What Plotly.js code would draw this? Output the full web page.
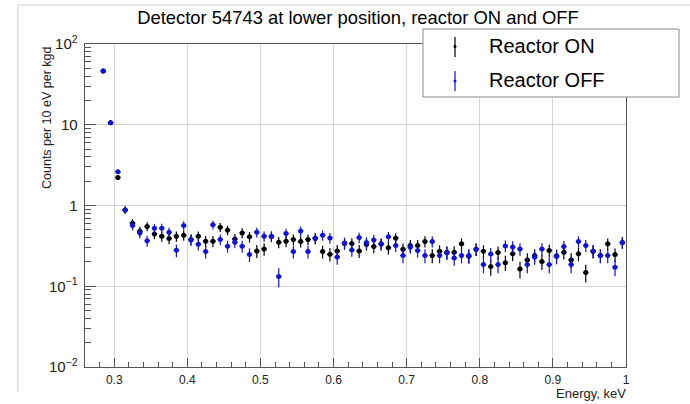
<!DOCTYPE html>
<html>
<head>
<meta charset="utf-8">
<script src="https://cdn.plot.ly/plotly-3.0.1.min.js"></script>
<style>html,body{margin:0;padding:0;background:#fff;}#chart{width:690px;height:404px;}</style>
</head>
<body>
<div id="chart"></div>
<script>
// Bin centres, keV
const energy = [0.285,0.295,0.305,0.315,0.325,0.335,0.345,0.355,0.365,0.375,0.385,0.395,0.405,0.415,0.425,0.435,0.445,0.455,0.465,0.475,0.485,0.495,0.505,0.515,0.525,0.535,0.545,0.555,0.565,0.575,0.585,0.595,0.605,0.615,0.625,0.635,0.645,0.655,0.665,0.675,0.685,0.695,0.705,0.715,0.725,0.735,0.745,0.755,0.765,0.775,0.785,0.795,0.805,0.815,0.825,0.835,0.845,0.855,0.865,0.875,0.885,0.895,0.905,0.915,0.925,0.935,0.945,0.955,0.965,0.975,0.985,0.995];

// Reactor ON (black)
const onVals = [46.3,10.6,2.22,0.88,0.604,0.48,0.549,0.445,0.417,0.390,0.417,0.429,0.38,0.417,0.361,0.361,0.539,0.495,0.386,0.458,0.409,0.274,0.290,0.413,0.351,0.361,0.379,0.358,0.379,0.39,0.269,0.249,0.274,0.338,0.338,0.274,0.329,0.310,0.335,0.299,0.394,0.288,0.319,0.319,0.358,0.240,0.272,0.264,0.264,0.335,0.236,0.288,0.272,0.175,0.262,0.196,0.252,0.163,0.212,0.240,0.202,0.277,0.238,0.264,0.212,0.252,0.148,0.27,0.24,0.335,0.247,0.348];
const onErr = [0.65,0.31,0.14,0.09,0.074,0.066,0.07,0.063,0.061,0.059,0.061,0.062,0.059,0.061,0.057,0.057,0.07,0.067,0.059,0.064,0.061,0.05,0.051,0.061,0.056,0.057,0.058,0.057,0.058,0.059,0.049,0.047,0.05,0.055,0.055,0.05,0.054,0.053,0.055,0.052,0.06,0.051,0.054,0.054,0.057,0.047,0.05,0.049,0.049,0.055,0.046,0.051,0.05,0.04,0.049,0.042,0.048,0.038,0.044,0.047,0.043,0.05,0.046,0.049,0.044,0.048,0.037,0.049,0.047,0.055,0.047,0.056];

// Reactor OFF (blue)
const offVals = [46.3,10.6,2.61,0.88,0.565,0.458,0.365,0.524,0.524,0.467,0.279,0.565,0.375,0.332,0.269,0.576,0.379,0.313,0.351,0.313,0.247,0.467,0.417,0.417,0.132,0.450,0.269,0.485,0.269,0.397,0.429,0.397,0.231,0.344,0.282,0.401,0.348,0.375,0.332,0.409,0.319,0.240,0.304,0.277,0.240,0.358,0.240,0.259,0.224,0.240,0.240,0.288,0.186,0.250,0.186,0.316,0.307,0.290,0.186,0.229,0.290,0.186,0.233,0.310,0.186,0.358,0.319,0.274,0.240,0.240,0.172,0.348];
const offErr = [0.65,0.31,0.15,0.09,0.071,0.064,0.057,0.069,0.069,0.065,0.05,0.071,0.058,0.055,0.049,0.072,0.058,0.053,0.056,0.053,0.047,0.065,0.061,0.061,0.035,0.064,0.049,0.066,0.049,0.06,0.062,0.06,0.046,0.056,0.05,0.06,0.056,0.058,0.055,0.061,0.054,0.047,0.052,0.05,0.047,0.057,0.047,0.048,0.045,0.047,0.047,0.051,0.041,0.048,0.041,0.053,0.053,0.051,0.041,0.045,0.051,0.041,0.046,0.053,0.041,0.057,0.054,0.05,0.047,0.047,0.039,0.056];

const seriesNames = ['Reactor ON', 'Reactor OFF'];
const xTickVals = [0.3,0.4,0.5,0.6,0.7,0.8,0.9,1.0];
const xTickText = ['0.3','0.4','0.5','0.6','0.7','0.8','0.9','1'];

const FONT = '"Liberation Sans", Arial, Helvetica, sans-serif';
const ON_COLOR = '#000000';
const OFF_COLOR = '#1414c8';

function trace(vals, errs, name, color) {
  return {
    type: 'scatter', mode: 'markers', name: name, x: energy, y: vals,
    marker: {symbol: 'circle', size: 5, color: color},
    error_y: {type: 'data', array: errs, visible: true, color: color, thickness: 1.2, width: 0},
    error_x: {type: 'constant', value: 0.0038, visible: true, color: color, thickness: 1.2, width: 0},
    showlegend: false, cliponaxis: true
  };
}

const data = [
  trace(onVals, onErr, seriesNames[0], ON_COLOR),
  trace(offVals, offErr, seriesNames[1], OFF_COLOR)
];

// pixel -> paper helpers for decoration (plot area 85..626 x 44..367)
const L = 85, R = 626, T = 44, B = 367;
const px = v => (v - L) / (R - L);
const py = v => (B - v) / (B - T);

const layout = {
  width: 690, height: 404,
  margin: {l: L, r: 690 - R, t: T, b: 404 - B, pad: 0},
  paper_bgcolor: '#ffffff', plot_bgcolor: '#ffffff',
  font: {family: FONT, color: '#000', size: 12},
  showlegend: false,
  title: {
    text: 'Detector 54743 at lower position, reactor ON and OFF',
    font: {family: FONT, size: 18.4, color: '#000'},
    x: px(358), xref: 'paper', xanchor: 'center',
    y: 1 - 18 / 404, yref: 'container', yanchor: 'middle'
  },
  xaxis: {
    range: [0.26, 1.0], tickmode: 'array', tickvals: xTickVals, ticktext: xTickText,
    ticks: 'inside', ticklen: 9, tickwidth: 1, tickcolor: '#555',
    minor: {dtick: 0.02, tick0: 0.3, ticks: 'inside', ticklen: 5, tickcolor: '#555', showgrid: false},
    showgrid: true, gridcolor: '#d4d4d4', gridwidth: 1,
    showline: true, linecolor: '#555', linewidth: 1, mirror: true,
    zeroline: false, tickfont: {family: FONT, size: 12, color: '#222'}, ticklabelstandoff: 2
  },
  yaxis: {
    type: 'log', range: [-2, 2], dtick: 1, exponentformat: 'power',
    ticks: 'inside', ticklen: 11, tickwidth: 1, tickcolor: '#555',
    minor: {ticks: 'inside', ticklen: 6, tickcolor: '#555', showgrid: false},
    showgrid: true, gridcolor: '#d4d4d4', gridwidth: 1,
    showline: true, linecolor: '#555', linewidth: 1, mirror: true,
    zeroline: false, tickfont: {family: FONT, size: 12, color: '#222'}, ticklabelstandoff: 4
  },
  shapes: [
    // canvas pad border (light)
    {type: 'line', xref: 'paper', yref: 'paper', x0: px(18), x1: px(18), y0: py(5), y1: py(392), line: {color: '#d0d0d0', width: 1}},
    {type: 'line', xref: 'paper', yref: 'paper', x0: px(18), x1: px(690), y0: py(5), y1: py(5), line: {color: '#d0d0d0', width: 1}},
    // legend box
    {type: 'rect', xref: 'paper', yref: 'paper', x0: px(423), x1: px(679), y0: py(29), y1: py(97), fillcolor: '#ffffff', line: {color: '#8a8a8a', width: 1}, layer: 'above'},
    // legend symbols
    {type: 'line', xref: 'paper', yref: 'paper', x0: px(455), x1: px(455), y0: py(37), y1: py(57), line: {color: ON_COLOR, width: 1.2}, layer: 'above'},
    {type: 'circle', xref: 'paper', yref: 'paper', x0: px(453.5), x1: px(456.5), y0: py(45), y1: py(48), fillcolor: ON_COLOR, line: {color: ON_COLOR, width: 0}, layer: 'above'},
    {type: 'line', xref: 'paper', yref: 'paper', x0: px(455), x1: px(455), y0: py(71), y1: py(91), line: {color: OFF_COLOR, width: 1.2}, layer: 'above'},
    {type: 'circle', xref: 'paper', yref: 'paper', x0: px(453.5), x1: px(456.5), y0: py(79.5), y1: py(82.5), fillcolor: OFF_COLOR, line: {color: OFF_COLOR, width: 0}, layer: 'above'}
  ],
  annotations: [
    {text: seriesNames[0], xref: 'paper', yref: 'paper', x: px(487), y: py(46), xanchor: 'left', yanchor: 'middle', showarrow: false, font: {family: FONT, size: 20, color: '#000'}},
    {text: seriesNames[1], xref: 'paper', yref: 'paper', x: px(487), y: py(80), xanchor: 'left', yanchor: 'middle', showarrow: false, font: {family: FONT, size: 20, color: '#000'}},
    {text: 'Counts per 10 eV per kgd', xref: 'paper', yref: 'paper', x: px(47), y: py(45), xanchor: 'center', yanchor: 'top', textangle: -90, showarrow: false, font: {family: FONT, size: 12.5, color: '#222'}},
    {text: 'Energy, keV', xref: 'paper', yref: 'paper', x: px(628), y: py(393), xanchor: 'right', yanchor: 'middle', showarrow: false, font: {family: FONT, size: 13, color: '#222'}}
  ]
};

Plotly.newPlot('chart', data, layout, {displayModeBar: false, staticPlot: true});
</script>
</body>
</html>
